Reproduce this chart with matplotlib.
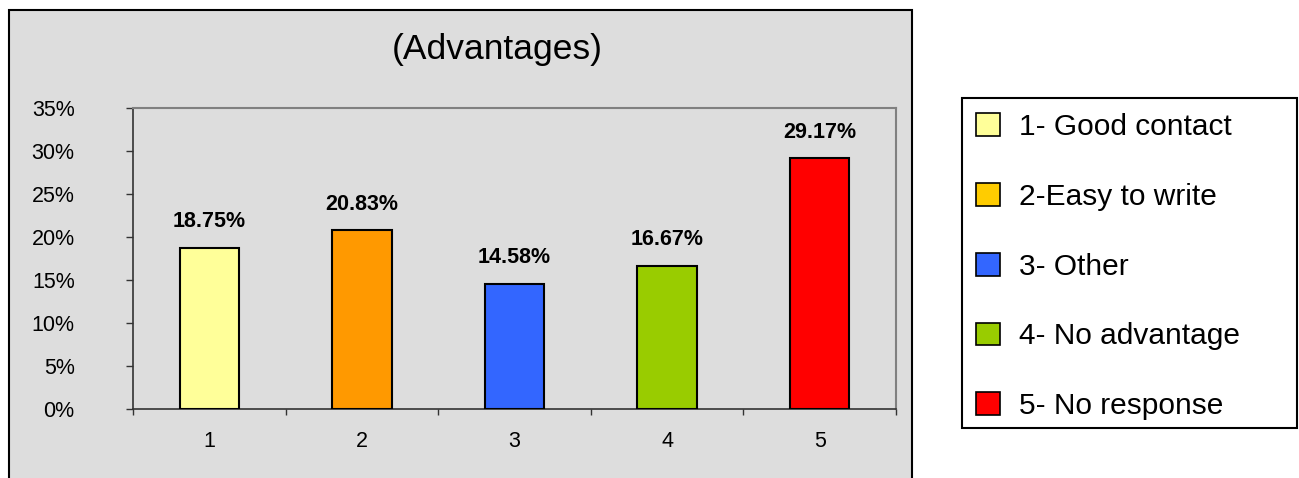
import matplotlib.pyplot as plt
import matplotlib.ticker as ticker
from matplotlib.patches import Rectangle, Patch

# data
categories = [1, 2, 3, 4, 5]
values = [18.75, 20.83, 14.58, 16.67, 29.17]
legend_labels = ['1- Good contact', '2-Easy to write', '3- Other',
                 '4- No advantage', '5- No response']
bar_colors = ['#FFFF99', '#FF9900', '#3366FF', '#99CC00', '#FF0000']
legend_colors = ['#FFFF99', '#FFCC00', '#3366FF', '#99CC00', '#FF0000']

plt.rcParams['font.family'] = ['Liberation Sans', 'DejaVu Sans']

W, H = 1299, 478
fig = plt.figure(figsize=(W / 100, H / 100), dpi=100)
fig.patch.set_facecolor('white')

# chart area frame (grey box)
fig.patches.append(Rectangle((9 / W, -0.05), (912 - 9) / W, 1 - 10 / H + 0.05,
                             transform=fig.transFigure, facecolor='#DDDDDD',
                             edgecolor='black', linewidth=1.5, zorder=-5))

# legend frame
fig.patches.append(Rectangle((962 / W, 1 - 428 / H), (1297 - 962) / W, (428 - 98) / H,
                             transform=fig.transFigure, facecolor='white',
                             edgecolor='black', linewidth=1.5, zorder=-5))

ax = fig.add_axes([133 / W, 1 - 409 / H, (896 - 133) / W, (409 - 108) / H])
ax.set_facecolor('#DDDDDD')

bars = ax.bar(categories, values, width=0.39, color=bar_colors,
              edgecolor='black', linewidth=1.5, zorder=3)

for bar, v in zip(bars, values):
    ax.annotate('{:.2f}%'.format(v), (bar.get_x() + bar.get_width() / 2, v),
                xytext=(0, 11), textcoords='offset points',
                ha='center', va='bottom', fontsize=15.5, fontweight='bold')

ax.set_xlim(0.5, 5.5)
ax.set_ylim(0, 35)
ax.set_yticks(range(0, 36, 5))
ax.yaxis.set_major_formatter(ticker.FuncFormatter(lambda y, _: '{:.0f}%'.format(y)))
ax.tick_params(axis='y', direction='out', length=5, width=1, pad=37,
               labelsize=15.5, color='#333333')

ax.set_xticks(categories)
ax.set_xticks([c - 0.5 for c in categories] + [5.5], minor=True)
ax.tick_params(axis='x', which='major', length=0, pad=16, labelsize=15.5)
ax.tick_params(axis='x', which='minor', direction='out', length=4.5, width=1,
               color='#333333')

for side in ['top', 'right']:
    ax.spines[side].set_color('#808080')
    ax.spines[side].set_linewidth(1.5)
for side in ['left', 'bottom']:
    ax.spines[side].set_color('#333333')
    ax.spines[side].set_linewidth(1.2)

fig.text(497 / W, 1 - 50 / H, '(Advantages)', ha='center', va='center', fontsize=25.5)

handles = [Patch(facecolor=c, edgecolor='black', linewidth=1.2) for c in legend_colors]
fig.legend(handles, legend_labels, loc='upper left',
           bbox_to_anchor=(976 / W, 1 - 113 / H), frameon=False,
           fontsize=21.5, handlelength=0.8, handleheight=0.8,
           handletextpad=0.65, labelspacing=1.4, borderpad=0, borderaxespad=0)

fig.savefig('out.png', dpi=100)
